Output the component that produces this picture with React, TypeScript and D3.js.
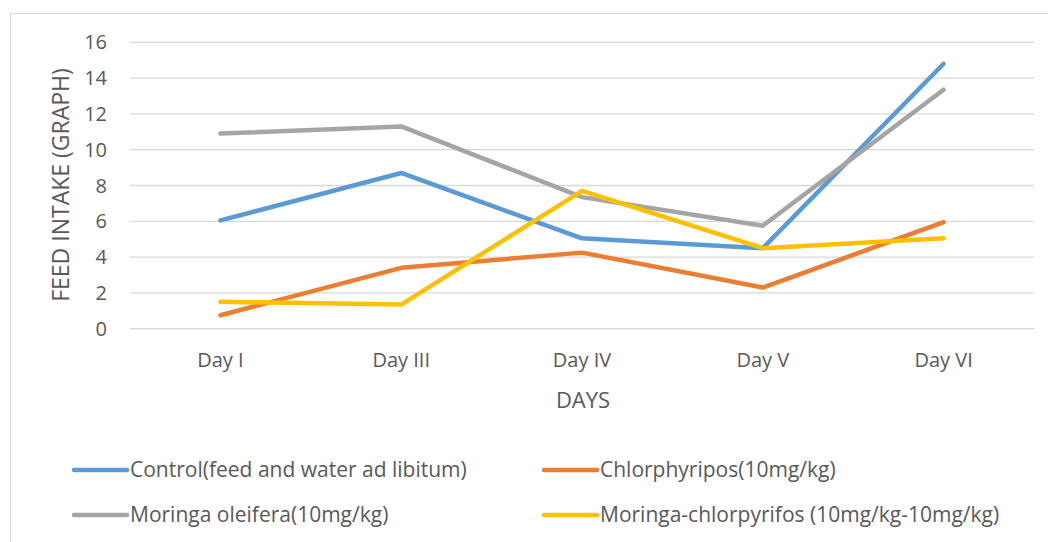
import React, { useRef, useEffect } from "react";
import * as d3 from "d3";

const days = ["Day I", "Day III", "Day IV", "Day V", "Day VI"];
const control = [6.05, 8.7, 5.05, 4.5, 14.8];
const chlorphyripos = [0.75, 3.4, 4.25, 2.3, 5.95];
const moringa = [10.9, 11.3, 7.35, 5.75, 13.35];
const moringaChlor = [1.5, 1.35, 7.7, 4.5, 5.05];
const yTicks = [0, 2, 4, 6, 8, 10, 12, 14, 16];

const seriesNames = [
  "Control(feed and water ad libitum)",
  "Chlorphyripos(10mg/kg)",
  "Moringa oleifera(10mg/kg)",
  "Moringa-chlorpyrifos (10mg/kg-10mg/kg)",
];
const seriesColors = ["#5B9BD5", "#ED7D31", "#A5A5A5", "#FFC000"];
const textColor = "#595959";
const font = "'Open Sans', sans-serif";

const App: React.FC = () => {
  const ref = useRef<SVGSVGElement | null>(null);

  useEffect(() => {
    if (!ref.current) return;
    const svg = d3.select(ref.current);
    svg.selectAll("*").remove();

    // chart area border (cut off at the right and bottom)
    svg.append("rect")
      .attr("x", 10.5).attr("y", 13.5)
      .attr("width", 1060).attr("height", 560)
      .attr("fill", "white").attr("stroke", "#D9D9D9");

    const x = d3.scaleBand<string>().domain(days).range([130, 1034]);
    const y = d3.scaleLinear().domain([0, 16]).range([328.7, 42.3]);

    // gridlines
    svg.append("g")
      .selectAll("line")
      .data(yTicks)
      .join("line")
      .attr("x1", 130).attr("x2", 1034)
      .attr("y1", (d) => y(d)).attr("y2", (d) => y(d))
      .attr("stroke", "#D9D9D9").attr("stroke-width", 1.3);

    // y tick labels
    svg.append("g")
      .selectAll("text")
      .data(yTicks)
      .join("text")
      .attr("x", 107).attr("y", (d) => y(d))
      .attr("dy", "0.35em")
      .attr("text-anchor", "end")
      .attr("font-family", font).attr("font-size", 20)
      .attr("fill", textColor)
      .text((d) => d);

    // x labels
    svg.append("g")
      .selectAll("text")
      .data(days)
      .join("text")
      .attr("x", (d) => x(d)! + x.bandwidth() / 2)
      .attr("y", 360).attr("dy", "0.35em")
      .attr("text-anchor", "middle")
      .attr("font-family", font).attr("font-size", 20)
      .attr("fill", textColor)
      .text((d) => d);

    svg.append("text")
      .attr("x", 583).attr("y", 400).attr("dy", "0.35em")
      .attr("text-anchor", "middle")
      .attr("font-family", font).attr("font-size", 22)
      .attr("fill", textColor)
      .text("DAYS");

    svg.append("text")
      .attr("transform", "translate(61,185) rotate(-90)")
      .attr("dy", "0.35em")
      .attr("text-anchor", "middle")
      .attr("font-family", font).attr("font-size", 23)
      .attr("fill", textColor)
      .text("FEED INTAKE (GRAPH)");

    const line = d3.line<number>()
      .x((_, i) => x(days[i])! + x.bandwidth() / 2)
      .y((d) => y(d));

    const all = [control, chlorphyripos, moringa, moringaChlor];
    svg.append("g")
      .selectAll("path")
      .data(all)
      .join("path")
      .attr("d", (d) => line(d))
      .attr("fill", "none")
      .attr("stroke", (_, i) => seriesColors[i])
      .attr("stroke-width", 4.5)
      .attr("stroke-linecap", "round")
      .attr("stroke-linejoin", "round");

    // legend
    const legendPos = [
      [74, 470], [544, 470], [74, 515], [544, 515],
    ];
    const lg = svg.append("g")
      .selectAll("g")
      .data(seriesNames)
      .join("g")
      .attr("transform", (_, i) => `translate(${legendPos[i][0]},${legendPos[i][1]})`);
    lg.append("line")
      .attr("x1", 0).attr("x2", 53)
      .attr("stroke", (_, i) => seriesColors[i])
      .attr("stroke-width", 4.5)
      .attr("stroke-linecap", "round");
    lg.append("text")
      .attr("x", 56).attr("dy", "0.35em")
      .attr("font-family", font).attr("font-size", 21)
      .attr("fill", textColor)
      .text((d) => d);

    return () => {
      svg.selectAll("*").remove();
    };
  }, []);

  return (
    <svg
      ref={ref}
      width={1048}
      height={542}
      style={{ position: "absolute", left: 0, top: 0, background: "white" }}
    />
  );
};

export default App;
